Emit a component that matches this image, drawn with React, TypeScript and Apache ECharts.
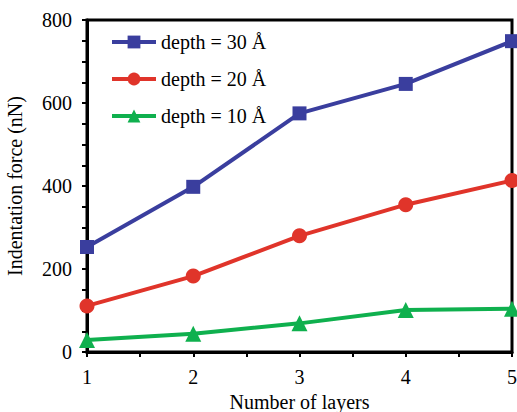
import React, { useEffect, useRef } from "react";
import * as echarts from "echarts";

const layers = [1, 2, 3, 4, 5];
const depth30 = [253, 398, 575, 646, 749];
const depth20 = [111, 183, 280, 355, 413];
const depth10 = [29, 44, 69, 101, 104];
const seriesNames = ["depth = 30 Å", "depth = 20 Å", "depth = 10 Å"];
const colors = ["#3a3e9e", "#e0342a", "#0fb04e"];

const FONT = "Liberation Serif";

export default function App() {
  const ref = useRef<HTMLDivElement>(null);
  useEffect(() => {
    const chart = echarts.init(ref.current!, null, { renderer: "svg" });
    const mk = (vals: number[]) => layers.map((x, i) => [x, vals[i]]);
    const symbols = ["rect", "circle", "triangle"];
    const sizes = [14, 15, 16];
    const datasets = [depth30, depth20, depth10];
    chart.setOption({
      animation: false,
      backgroundColor: "#fff",
      grid: {
        left: 87,
        right: 5,
        top: 20,
        bottom: 60,
        outerBoundsMode: "none",
        containLabel: false,
        show: true,
        borderColor: "#000",
        borderWidth: 3,
        backgroundColor: "transparent",
      },
      legend: {
        orient: "vertical",
        left: 105,
        top: 27,
        itemWidth: 44,
        itemHeight: 16,
        itemGap: 17,
        data: seriesNames,
        lineStyle: { width: 4 },
        textStyle: { fontFamily: FONT, fontSize: 20, color: "#000" },
      },
      xAxis: {
        type: "value",
        min: 1,
        max: 5,
        interval: 1,
        name: "Number of layers",
        nameLocation: "middle",
        nameGap: 38,
        nameTextStyle: { fontFamily: FONT, fontSize: 20, color: "#000" },
        axisLine: { show: true, lineStyle: { color: "#000", width: 3 } },
        axisTick: { show: true, inside: false, length: 5, lineStyle: { color: "#000", width: 2 } },
        minorTick: { show: true, splitNumber: 2, length: 5, lineStyle: { color: "#000", width: 2 } },
        axisLabel: { fontFamily: FONT, fontSize: 20, color: "#000", margin: 15 },
        splitLine: { show: false },
      },
      yAxis: {
        type: "value",
        min: 0,
        max: 800,
        interval: 200,
        name: "Indentation force (nN)",
        nameLocation: "middle",
        nameGap: 62,
        nameTextStyle: { fontFamily: FONT, fontSize: 20, color: "#000" },
        axisLine: { show: true, lineStyle: { color: "#000", width: 3 } },
        axisTick: { show: true, inside: false, length: 5, lineStyle: { color: "#000", width: 2 } },
        minorTick: { show: true, splitNumber: 4, length: 5, lineStyle: { color: "#000", width: 2 } },
        axisLabel: { fontFamily: FONT, fontSize: 20, color: "#000", margin: 15 },
        splitLine: { show: false },
      },
      series: seriesNames.map((name, i) => ({
        name,
        type: "line",
        data: mk(datasets[i]),
        symbol: symbols[i],
        symbolSize: sizes[i],
        clip: false,
        lineStyle: { color: colors[i], width: 4 },
        itemStyle: { color: colors[i] },
        z: 3 - i + 2,
      })),
    });
    return () => chart.dispose();
  }, []);
  return <div ref={ref} style={{ width: 517, height: 412, position: "absolute", left: 0, top: 0 }} />;
}
